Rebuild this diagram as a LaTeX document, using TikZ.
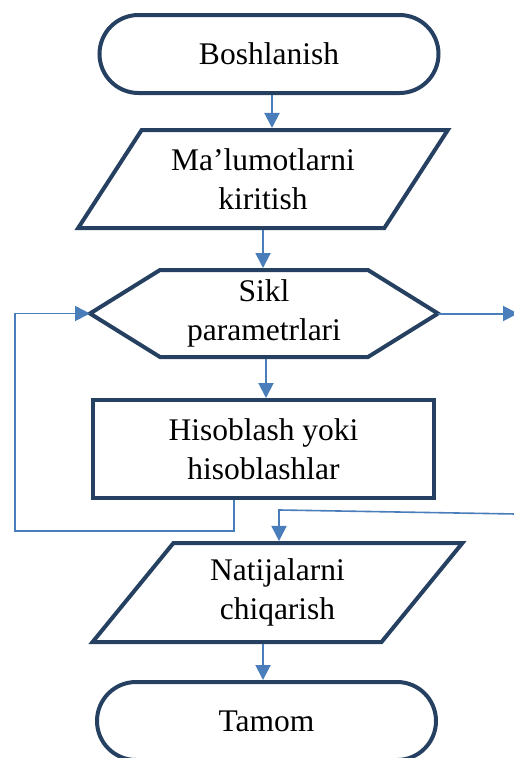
\documentclass[tikz,border=0pt]{standalone}
\usepackage{fontspec}
\setmainfont{Liberation Serif}
\usetikzlibrary{shapes.geometric,shapes.misc,arrows.meta}
\definecolor{boxblue}{RGB}{37,64,97}
\definecolor{lineblue}{RGB}{74,126,187}

\begin{document}
\begin{tikzpicture}[x=1pt,y=-1pt,
	txt/.style={align=center,inner sep=2pt,font=\fontsize{31.5}{39}\selectfont},
	box/.style={txt,draw=boxblue,line width=4pt},
	terminal/.style={box,rounded rectangle,minimum width=343pt,minimum height=78pt},
	io/.style={box,trapezium,trapezium left angle=53,trapezium right angle=127,trapezium stretches=true,minimum width=370pt,minimum height=98pt},
	process/.style={box,rectangle,minimum width=341pt,minimum height=98pt},
	flow/.style={draw=lineblue,line width=2pt,-{Triangle[length=15pt,width=15pt]}}]
		\useasboundingbox (0,0) rectangle (514,758);

		\node[terminal] (start) at (269,54) {Boshlanish};
		\node[io] (inp) at (263,179) {Ma'lumotlarni\\kiritish};
		\node[txt] (sikl) at (264,313.5) {Sikl\\parametrlari};
		\node[process] (calc) at (263.5,449) {Hisoblash yoki\\hisoblashlar};
		\node[io,minimum width=371pt,minimum height=99pt] (outp) at (277.5,592.5) {Natijalarni\\chiqarish};
		\node[terminal] (stop) at (266.5,721) {Tamom};

		\draw[draw=boxblue,line width=4pt] ([xshift=-174pt]sikl.center) coordinate (siklW)
			-- ++(70,-43.5) -- ++(208,0) -- ++(70,43.5) coordinate (siklE)
			-- ++(-70,43.5) -- ++(-208,0) -- cycle;
		\coordinate (siklN) at ([yshift=45.5pt]sikl.center);
		\coordinate (siklS) at ([yshift=-45.5pt]sikl.center);
		\coordinate (exitR) at (518,313.5);
		\coordinate (back) at (15,531);
		\coordinate (joinR) at (516,514);

		\draw[flow] ([xshift=3pt]start.south) -- ([xshift=3pt]start.south |- inp.north);
		\draw[flow] (inp.south) -- (inp.south |- siklN);
		\draw[flow] ([xshift=2pt]siklS) -- ([xshift=2pt]siklS |- calc.north);
		\draw[flow] (siklE) -- (exitR);
		\draw[flow,line width=1.6pt] ([xshift=-29.5pt]calc.south) |- (back) |- (siklW);
		\draw[flow,line width=1.6pt] (joinR) -- ([xshift=1.5pt,yshift=31pt]outp.north) -- ([xshift=1.5pt]outp.north);
		\draw[flow] ([xshift=-14.5pt]outp.south) -- ([xshift=-14.5pt]outp.south |- stop.north);
	\end{tikzpicture}
\end{document}
